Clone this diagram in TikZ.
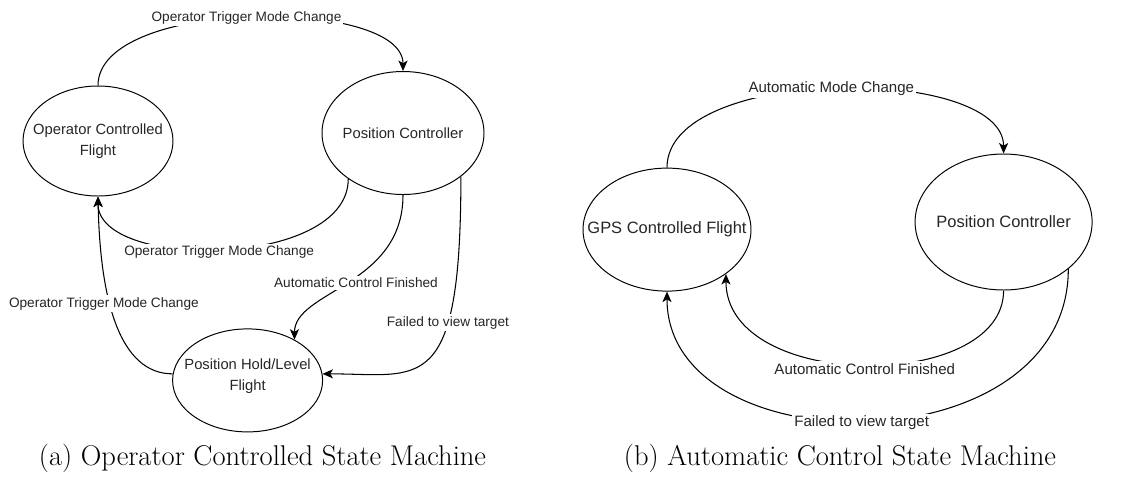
\documentclass[tikz,border=0pt]{standalone}
\usepackage{fontspec}
\usepackage{tikz}
\usetikzlibrary{shapes.geometric, arrows.meta}
\newfontfamily\diagfont{Liberation Sans}

\begin{document}
\begin{tikzpicture}[
    state/.style={ellipse, draw=black, line width=0.7pt, inner sep=0pt},
    stxt/.style={align=center, text=black!85, font=\diagfont\fontsize{#1}{15}\selectfont},
    trans/.style={-{Stealth[length=7.5pt, width=6.5pt, inset=2pt]}, line width=0.75pt},
    elbl/.style={fill=white, inner sep=1.5pt, text=black!85, font=\diagfont\fontsize{#1}{#1}\selectfont},
    subcap/.style={font=\fontsize{20.3}{24}\selectfont},
]
\useasboundingbox (0,0) rectangle (28.6,-12.175);

%% ── (a) Operator controlled machine ─────────────────────────────────────────
\node[state, minimum width=3.75cm, minimum height=2.75cm,
      label={[stxt=10.5]center:Operator Controlled\\Flight}]   (ocf) at (2.45,-3.525)  {};
\node[state, minimum width=4.05cm, minimum height=3.075cm,
      label={[stxt=10.5]center:Position Controller}]           (pcA) at (10.075,-3.325) {};
\node[state, minimum width=3.75cm, minimum height=2.575cm,
      label={[stxt=10.5, yshift=0.1cm]center:Position Hold/Level\\Flight}] (phl) at (6.19,-9.51) {};

% Operator -> Position Controller
\draw[trans] (ocf.north) .. controls +(0,2.2) and +(0,1.85) ..
             node[elbl=9.7, xshift=-0.1cm] (ta1) {Operator Trigger Mode Change} (pcA.north);

% Position Controller -> Operator
\draw[trans] (pcA.220) .. controls +(0,-2.25) and +(0,-1.85) ..
             node[elbl=9.7, xshift=-0.1cm, yshift=-0.08cm] (ta2) {Operator Trigger Mode Change} (ocf.south);

% Position Controller -> Position Hold
\draw[trans] (pcA.south) .. controls +(0,-2.275) and +(0,1.225) ..
             node[elbl=9.7, xshift=0.18cm] (ta3) {Automatic Control Finished} (phl.41);

\draw[trans] (pcA.-37) .. controls +(0,-5.55) and +(2.45,0) ..
             node[elbl=9.7, pos=0.32] (ta4) {Failed to view target} (phl.5);

% Position Hold -> Operator
\draw[trans] (phl.175) .. controls +(-1.325,0) and +(0.05,-2.6) ..
             node[elbl=9.7, pos=0.6, xshift=-0.15cm] (ta5) {Operator Trigger Mode Change} (ocf.south);

\node[subcap] (capA) at (6.5625,-11.45) {(a) Operator Controlled State Machine};

%% ── (b) Automatic control machine ───────────────────────────────────────────
\node[state, minimum width=4.2cm, minimum height=3.075cm,
      label={[stxt=11.7]center:GPS Controlled Flight}] (gps) at (16.675,-5.74) {};
\node[state, minimum width=4.425cm, minimum height=3.4cm,
      label={[stxt=11.7]center:Position Controller}]   (pcB) at (25.09,-5.55)  {};

% GPS -> Position Controller
\draw[trans] (gps.north) .. controls +(0,2.575) and +(0,2.225) ..
             node[elbl=10.7, xshift=-0.1cm] (tb1) {Automatic Mode Change} (pcB.north);

% Position Controller -> GPS
\draw[trans] (pcB.south) .. controls +(0,-2.55) and +(0,-2.95) ..
             node[elbl=10.7, yshift=-0.1cm] (tb2) {Automatic Control Finished} (gps.-37);

\draw[trans] (pcB.-36) .. controls +(0,-4.975) and +(0,-4.4) ..
             node[elbl=10.7, xshift=-0.15cm, yshift=-0.05cm] (tb3) {Failed to view target} (gps.south);

\node[subcap] (capB) at (21.0,-11.45) {(b) Automatic Control State Machine};

\end{tikzpicture}
\end{document}
